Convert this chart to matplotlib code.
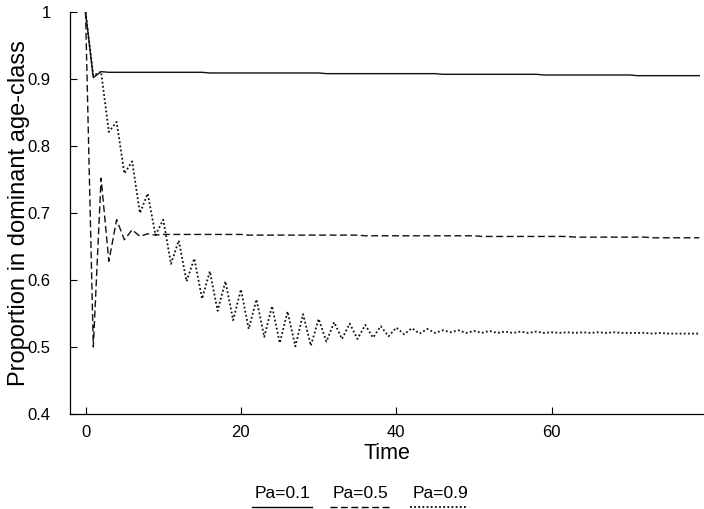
import numpy as np
import matplotlib
matplotlib.use("Agg")
import matplotlib.pyplot as plt
from matplotlib.lines import Line2D

plt.rcParams['font.family'] = ['Liberation Sans', 'DejaVu Sans']

time = list(range(80))

pa01 = [1.000, 0.902, 0.911,
        0.910, 0.910, 0.910, 0.910, 0.910, 0.910, 0.910, 0.910, 0.910, 0.910, 0.910, 0.910, 0.910,
        0.909, 0.909, 0.909, 0.909, 0.909, 0.909, 0.909, 0.909, 0.909, 0.909, 0.909, 0.909, 0.909, 0.909, 0.909,
        0.908, 0.908, 0.908, 0.908, 0.908, 0.908, 0.908, 0.908, 0.908, 0.908, 0.908, 0.908, 0.908, 0.908, 0.908,
        0.907, 0.907, 0.907, 0.907, 0.907, 0.907, 0.907, 0.907, 0.907, 0.907, 0.907, 0.907, 0.907,
        0.906, 0.906, 0.906, 0.906, 0.906, 0.906, 0.906, 0.906, 0.906, 0.906, 0.906, 0.906,
        0.905, 0.905, 0.905, 0.905, 0.905, 0.905, 0.905, 0.905, 0.905]

pa05 = [1.000, 0.500, 0.752, 0.628, 0.690, 0.660, 0.675, 0.665, 0.669, 0.667,
        0.668, 0.668, 0.668, 0.668, 0.668, 0.668, 0.668, 0.668, 0.668, 0.668, 0.668,
        0.667, 0.667, 0.667, 0.667, 0.667, 0.667, 0.667, 0.667, 0.667, 0.667, 0.667, 0.667, 0.667, 0.667, 0.667,
        0.666, 0.666, 0.666, 0.666, 0.666, 0.666, 0.666, 0.666, 0.666, 0.666, 0.666, 0.666, 0.666, 0.666, 0.666,
        0.665, 0.665, 0.665, 0.665, 0.665, 0.665, 0.665, 0.665, 0.665, 0.665, 0.665, 0.665,
        0.664, 0.664, 0.664, 0.664, 0.664, 0.664, 0.664, 0.664, 0.664, 0.664,
        0.663, 0.663, 0.663, 0.663, 0.663, 0.663, 0.663]

pa09 = [1.000, 0.905, 0.911, 0.821, 0.836, 0.759, 0.777, 0.700, 0.729, 0.667,
        0.690, 0.624, 0.659, 0.598, 0.632, 0.572, 0.613, 0.554, 0.598, 0.540,
        0.586, 0.527, 0.571, 0.515, 0.561, 0.506, 0.553, 0.501, 0.549, 0.502,
        0.542, 0.508, 0.537, 0.512, 0.535, 0.512, 0.533, 0.514, 0.531, 0.516,
        0.529, 0.519, 0.528, 0.520, 0.527, 0.521, 0.525, 0.522, 0.525, 0.521,
        0.524, 0.521, 0.524, 0.521, 0.523, 0.521, 0.523, 0.521, 0.523, 0.521,
        0.522, 0.521, 0.522, 0.521, 0.522, 0.521, 0.522, 0.521, 0.522, 0.521,
        0.521, 0.521, 0.521, 0.520, 0.521, 0.520, 0.520, 0.520, 0.520, 0.520]

series_labels = ["Pa=0.1", "Pa=0.5", "Pa=0.9"]
xticks = [0, 20, 40, 60]
xtick_labels = ["0", "20", "40", "60"]
yticks = [0.4, 0.5, 0.6, 0.7, 0.8, 0.9, 1.0]
ytick_labels = ["0.4", "0.5", "0.6", "0.7", "0.8", "0.9", "1"]

fig = plt.figure(figsize=(7.04, 5.09), dpi=100)
ax = fig.add_axes([70/704, 1 - 414/509, 634/704, (414 - 12)/509])

styles = ['-', (0, (5, 2.5)), (0, (1, 1.3))]
lws = [1.0, 1.0, 1.3]
for vals, ls, lw in zip([pa01, pa05, pa09], styles, lws):
    ax.plot(time, vals, color='#111111', linestyle=ls, linewidth=lw)

ax.set_xlim(-2.0, 79.6)
ax.set_ylim(0.4, 1.0)
ax.set_xticks(xticks)
ax.set_xticklabels(xtick_labels)
ax.set_yticks(yticks)
ax.set_yticklabels(ytick_labels)
ax.tick_params(direction='in', length=5, width=0.8, labelsize=12, colors='black')
ax.tick_params(axis='x', pad=8)
ax.tick_params(axis='y', pad=14)
ax.spines['top'].set_visible(False)
ax.spines['right'].set_visible(False)
for s in ['left', 'bottom']:
    ax.spines[s].set_linewidth(0.9)

ax.set_xlabel("Time", fontsize=15.5, labelpad=2)
ax.set_ylabel("Proportion in dominant age-class", fontsize=17, labelpad=-1.5)

# legend: labels above line samples, below the plot
text_x = [282, 361, 441]
line_x = [(252, 312), (330, 392), (410, 467)]
for lab, tx, (x0, x1), ls, lw in zip(series_labels, text_x, line_x, styles, lws):
    fig.text(tx/704, 1 - 494/509, lab, ha='center', va='center', fontsize=12.5)
    fig.add_artist(Line2D([x0/704, x1/704], [1 - 506.5/509, 1 - 506.5/509],
                          transform=fig.transFigure, color='black', linestyle=ls, linewidth=lw))

fig.savefig("out.png", dpi=100)
